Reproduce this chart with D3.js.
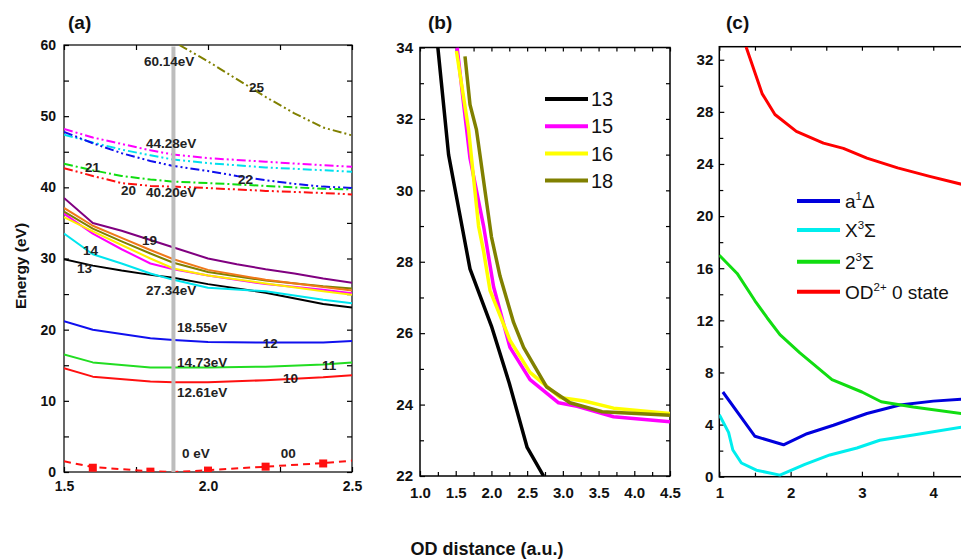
<!DOCTYPE html>
<html>
<head>
<meta charset="utf-8">
<script src="https://cdn.jsdelivr.net/npm/d3@7"></script>
<style>
body { margin: 0; background: #fff; }
svg { font-family: "Liberation Sans", Arial, sans-serif; }
.tick text { font-weight: bold; fill: #111; }
.tick line { stroke: #000; stroke-width: 1.2; }
</style>
</head>
<body>
<svg id="fig" width="961" height="560"></svg>
<script>
// ---- panel (a): energy curves vs OD distance ----
const a25 = [[1.9, 60.0], [1.97, 58.4], [2.0, 57.7], [2.1, 55.2], [2.2, 52.7], [2.3, 50.4], [2.4, 48.4], [2.5, 47.3]];
const aDashMagenta = [[1.5, 48.2], [1.6, 47.0], [1.7, 46.1], [1.8, 45.2], [1.88, 44.6], [2.0, 44.1], [2.2, 43.6], [2.4, 43.1], [2.5, 42.9]];
const aDashCyan = [[1.5, 47.4], [1.6, 46.3], [1.7, 45.3], [1.8, 44.5], [1.88, 43.9], [2.0, 43.4], [2.2, 42.8], [2.4, 42.4], [2.5, 42.2]];
const a22 = [[1.5, 47.8], [1.6, 46.2], [1.7, 44.8], [1.8, 43.7], [1.88, 43.0], [2.0, 42.3], [2.1, 41.6], [2.2, 41.0], [2.3, 40.5], [2.4, 40.1], [2.5, 39.9]];
const a21 = [[1.5, 43.3], [1.6, 42.4], [1.7, 41.6], [1.8, 41.1], [1.88, 40.8], [2.0, 40.6], [2.2, 40.2], [2.4, 39.8], [2.5, 39.7]];
const a20 = [[1.5, 42.7], [1.6, 41.6], [1.7, 40.6], [1.8, 40.2], [1.88, 40.1], [2.0, 39.9], [2.2, 39.5], [2.4, 39.2], [2.5, 39.0]];
const a19 = [[1.5, 38.5], [1.6, 35.0], [1.7, 33.9], [1.8, 32.6], [1.9, 31.3], [2.0, 30.0], [2.1, 29.2], [2.2, 28.5], [2.3, 27.9], [2.4, 27.2], [2.5, 26.6]];
const aOrange = [[1.5, 37.1], [1.6, 34.6], [1.7, 32.9], [1.8, 31.2], [1.88, 29.9], [2.0, 28.4], [2.2, 27.0], [2.4, 26.0], [2.5, 25.5]];
const a18 = [[1.5, 36.6], [1.6, 34.2], [1.7, 32.4], [1.8, 30.7], [1.88, 29.4], [2.0, 28.1], [2.2, 26.9], [2.4, 26.1], [2.5, 25.8]];
const a16 = [[1.5, 35.8], [1.6, 33.8], [1.7, 31.9], [1.8, 30.0], [1.88, 28.6], [2.0, 27.6], [2.2, 26.5], [2.4, 25.4], [2.5, 24.9]];
const a15 = [[1.5, 36.3], [1.6, 33.5], [1.7, 31.3], [1.8, 29.3], [1.88, 28.5], [2.0, 27.6], [2.2, 26.4], [2.4, 25.6], [2.5, 25.1]];
const a14 = [[1.5, 33.5], [1.6, 30.6], [1.7, 29.3], [1.8, 27.9], [1.88, 27.0], [2.0, 25.9], [2.2, 25.4], [2.4, 24.2], [2.5, 23.7]];
const a13 = [[1.5, 29.9], [1.6, 29.0], [1.7, 28.3], [1.8, 27.7], [1.88, 27.3], [2.0, 26.4], [2.2, 25.2], [2.4, 23.6], [2.5, 23.1]];
const a12 = [[1.5, 21.2], [1.6, 20.0], [1.8, 18.8], [1.88, 18.55], [2.0, 18.25], [2.2, 18.2], [2.4, 18.2], [2.5, 18.4]];
const a11 = [[1.5, 16.5], [1.6, 15.4], [1.8, 14.7], [1.88, 14.7], [2.0, 14.7], [2.2, 14.8], [2.4, 15.1], [2.5, 15.4]];
const a10 = [[1.5, 14.6], [1.6, 13.4], [1.8, 12.7], [1.88, 12.6], [2.0, 12.6], [2.2, 12.9], [2.4, 13.3], [2.5, 13.6]];
const a00 = [[1.5, 1.5], [1.6, 0.7], [1.8, 0.1], [1.88, 0.0], [2.0, 0.25], [2.2, 0.75], [2.4, 1.25], [2.5, 1.6]];
const a00marks = [[1.6, 0.6], [1.8, 0.05], [2.0, 0.2], [2.2, 0.75], [2.4, 1.2]];
const aCut = 1.88;
const aLabels = [
    [1.778, 57.05, "60.14eV"], [2.142, 53.4, "25"], [1.785, 45.5, "44.28eV"],
    [1.573, 42.2, "21"], [2.104, 40.5, "22"], [1.698, 38.9, "20"], [1.785, 38.6, "40.20eV"],
    [1.771, 31.9, "19"], [1.566, 30.5, "14"], [1.545, 28.0, "13"], [1.785, 24.9, "27.34eV"],
    [1.892, 19.7, "18.55eV"], [2.19, 17.4, "12"], [1.892, 14.75, "14.73eV"],
    [2.396, 14.3, "11"], [2.26, 12.5, "10"], [1.892, 10.5, "12.61eV"],
    [1.91, 1.97, "0 eV"], [2.253, 1.97, "00"]
];

// ---- panel (b): zoom on states 13-18 ----
const b13 = [[1.25, 34.0], [1.30, 33.0], [1.40, 31.0], [1.55, 29.4], [1.70, 27.8], [2.0, 26.2], [2.25, 24.6], [2.5, 22.8], [2.73, 22.0]];
const b15 = [[1.52, 34.0], [1.6, 32.6], [1.7, 30.9], [1.89, 29.0], [2.03, 27.3], [2.26, 25.6], [2.54, 24.7], [2.94, 24.05], [3.2, 23.95], [3.71, 23.66], [4.5, 23.52]];
const b16 = [[1.51, 33.9], [1.68, 31.7], [1.82, 29.0], [1.89, 28.3], [1.98, 27.2], [2.26, 25.8], [2.54, 24.9], [2.96, 24.2], [3.3, 24.1], [3.71, 23.9], [4.5, 23.75]];
const b18 = [[1.63, 33.75], [1.70, 32.4], [1.79, 31.7], [2.0, 28.7], [2.12, 27.6], [2.31, 26.3], [2.45, 25.6], [2.77, 24.5], [3.1, 24.05], [3.55, 23.8], [4.5, 23.7]];
const bNames = ["13", "15", "16", "18"];

// ---- panel (c): OD states ----
const cA1D = [[1.05, 6.5], [1.5, 3.1], [1.9, 2.45], [2.23, 3.3], [2.6, 3.95], [3.07, 4.85], [3.53, 5.5], [4.0, 5.8], [4.4, 5.95]];
const cX3S = [[1.0, 4.75], [1.13, 3.4], [1.19, 2.05], [1.31, 1.05], [1.52, 0.5], [1.85, 0.12], [2.2, 0.95], [2.55, 1.67], [2.93, 2.2], [3.25, 2.8], [3.72, 3.2], [4.4, 3.8]];
const c23S = [[1.0, 17.0], [1.25, 15.6], [1.5, 13.5], [1.67, 12.2], [1.85, 10.9], [2.13, 9.5], [2.58, 7.45], [3.0, 6.5], [3.27, 5.75], [3.72, 5.35], [4.4, 4.85]];
const cOD2 = [[1.375, 33.0], [1.6, 29.4], [1.78, 27.8], [2.08, 26.5], [2.46, 25.6], [2.74, 25.2], [3.07, 24.45], [3.5, 23.7], [3.95, 23.05], [4.5, 22.3]];

(function () {
    let W = 961, H = 560;
    let svg = d3.select("#fig");
    let defs = svg.append("defs");

    function range(a, b, s) {
        return d3.range(a, b + s / 2, s).map(v => +v.toFixed(3));
    }

    function panel(o) {
        let x = d3.scaleLinear().domain(o.xd).range(o.xr);
        let y = d3.scaleLinear().domain(o.yd).range(o.yr);
        let g = svg.append("g");
        let cw = Math.min(o.xr[1], W) - o.xr[0];
        defs.append("clipPath").attr("id", o.id)
            .append("rect").attr("x", o.xr[0]).attr("y", o.yr[1])
            .attr("width", cw).attr("height", o.yr[0] - o.yr[1]);

        let axes = [
            [d3.axisBottom(x).tickValues(o.xt).tickFormat(d3.format(o.xf)).tickSize(-o.tk).tickPadding(o.xpad), 0, o.yr[0]],
            [d3.axisBottom(x).tickValues(o.xm).tickFormat("").tickSize(-o.tm), 0, o.yr[0]],
            [d3.axisTop(x).tickValues(o.xm.concat(o.xt)).tickFormat("").tickSize(-o.tm), 0, o.yr[1]],
            [d3.axisLeft(y).tickValues(o.yt).tickFormat(d3.format("d")).tickSize(-o.tk).tickPadding(o.ypad), o.xr[0], 0],
            [d3.axisLeft(y).tickValues(o.ym).tickFormat("").tickSize(-o.tm), o.xr[0], 0],
            [d3.axisRight(y).tickValues(o.ym.concat(o.yt)).tickFormat("").tickSize(-o.tm), o.xr[1], 0]
        ];
        axes.forEach(function (a) {
            let ag = g.append("g").attr("transform", `translate(${a[1]},${a[2]})`).call(a[0]);
            ag.select(".domain").remove();
            ag.selectAll("text").attr("font-size", o.fs).attr("font-family", "Liberation Sans, Arial, sans-serif");
        });
        g.append("rect").attr("x", o.xr[0]).attr("y", o.yr[1])
            .attr("width", o.xr[1] - o.xr[0]).attr("height", o.yr[0] - o.yr[1])
            .attr("fill", "none").attr("stroke", "#000").attr("stroke-width", o.bw);

        let plot = g.append("g").attr("clip-path", `url(#${o.id})`);
        let line = d3.line().x(d => x(d[0])).y(d => y(d[1]));
        return {x: x, y: y, g: g, plot: plot, line: line};
    }

    function draw(p, data, color, width, dash) {
        p.plot.append("path").datum(data).attr("d", p.line)
            .attr("fill", "none").attr("stroke", color).attr("stroke-width", width)
            .attr("stroke-linejoin", "round")
            .attr("stroke-dasharray", dash || null);
    }

    // ---------- (a) ----------
    let pa = panel({
        id: "clipA", xd: [1.5, 2.5], xr: [64, 352], yd: [0, 60], yr: [472, 45],
        xt: [1.5, 2.0, 2.5], xm: [1.75, 2.25], xf: ".1f",
        yt: range(0, 60, 10), ym: range(5, 55, 10),
        tk: 5, tm: 5, xpad: 9, ypad: 8, fs: 14, bw: 1.2
    });
    let dd = "9,3,2,3,2,3", d1 = "9,3,2,3";
    let aLines = [
        [a25, "#808000", dd], [aDashMagenta, "#ff00ff", dd], [aDashCyan, "#00e0ee", dd],
        [a22, "#1010ee", dd], [a21, "#10dd10", d1], [a20, "#ff1010", dd],
        [a13, "#000000"], [a14, "#00e5ee"], [a15, "#ff00ff"], [a16, "#ffee00"],
        [a18, "#808000"], [aOrange, "#f07818"], [a19, "#800080"],
        [a12, "#1010ee"], [a11, "#22dd22"], [a10, "#ff1010"],
        [a00, "#ff1010", "7,5"]
    ];
    aLines.forEach(l => draw(pa, l[0], l[1], 2, l[2]));
    pa.plot.selectAll("rect.mk").data(a00marks).enter().append("rect")
        .attr("x", d => pa.x(d[0]) - 4).attr("y", d => pa.y(d[1]) - 4)
        .attr("width", 8).attr("height", 8).attr("fill", "#ff1010");
    pa.g.append("line")
        .attr("x1", pa.x(aCut)).attr("x2", pa.x(aCut))
        .attr("y1", pa.y(59.8)).attr("y2", pa.y(0))
        .attr("stroke", "#bdbdbd").attr("stroke-width", 4);
    pa.g.append("g").selectAll("text").data(aLabels).enter().append("text")
        .attr("x", d => pa.x(d[0])).attr("y", d => pa.y(d[1]))
        .attr("font-size", 13.5).attr("font-weight", "bold").attr("fill", "#222")
        .text(d => d[2]);

    // ---------- (b) ----------
    let pb = panel({
        id: "clipB", xd: [1, 4.5], xr: [420, 670], yd: [22, 34], yr: [476, 47.5],
        xt: range(1, 4.5, 0.5), xm: range(1.25, 4.25, 0.5), xf: ".1f",
        yt: range(22, 34, 2), ym: range(23, 33, 2),
        tk: 5, tm: 4, xpad: 11, ypad: 7, fs: 15, bw: 1.5
    });
    let bColors = ["#000000", "#ff00ff", "#ffff00", "#808000"];
    [b13, b15, b16, b18].forEach((s, i) => draw(pb, s, bColors[i], 3.5));
    let bl = pb.g.append("g").selectAll("g").data(bNames).enter().append("g")
        .attr("transform", (d, i) => `translate(545,${99 + i * 27.2})`);
    bl.append("line").attr("x1", 0).attr("x2", 43)
        .attr("stroke", (d, i) => bColors[i]).attr("stroke-width", 4);
    bl.append("text").attr("x", 46).attr("dy", "0.36em")
        .attr("font-size", 20).attr("fill", "#111").text(d => d);

    // ---------- (c) ----------
    let pc = panel({
        id: "clipC", xd: [1, 4.5], xr: [719.3, 968.9], yd: [0, 33], yr: [476.7, 46.7],
        xt: [1, 2, 3, 4], xm: [1.5, 2.5, 3.5], xf: "d",
        yt: range(0, 32, 4), ym: range(2, 30, 4),
        tk: 5, tm: 4, xpad: 11, ypad: 6, fs: 15, bw: 1.5
    });
    let cColors = ["#0000dd", "#00eeee", "#11dd11", "#ff0000"];
    [cA1D, cX3S, c23S, cOD2].forEach((s, i) => draw(pc, s, cColors[i], 3));
    let cNames = [["a", "1", "\u0394", ""], ["X", "3", "\u03a3", ""], ["2", "3", "\u03a3", ""], ["OD", "2+", " 0 state", ""]];
    let cl = pc.g.append("g").selectAll("g").data(cNames).enter().append("g")
        .attr("transform", (d, i) => `translate(797,${[201, 230, 261.7, 291.7][i]})`);
    cl.append("line").attr("x1", 0).attr("x2", 43)
        .attr("stroke", (d, i) => cColors[i]).attr("stroke-width", 4);
    let ct = cl.append("text").attr("x", 48).attr("y", 7)
        .attr("font-size", 19).attr("fill", "#111");
    ct.append("tspan").text(d => d[0]);
    ct.append("tspan").attr("font-size", 11.5).attr("dy", -8).text(d => d[1]);
    ct.append("tspan").attr("dy", 8).text(d => d[2]);

    // ---------- titles ----------
    let titles = [
        {x: 68, y: 29, text: "(a)"},
        {x: 428, y: 29, text: "(b)"},
        {x: 726, y: 29, text: "(c)"}
    ];
    svg.append("g").selectAll("text").data(titles).enter().append("text")
        .attr("x", d => d.x).attr("y", d => d.y)
        .attr("font-size", 19).attr("font-weight", "bold").attr("fill", "#111")
        .text(d => d.text);

    svg.append("text").attr("transform", "translate(26,266) rotate(-90)")
        .attr("text-anchor", "middle").attr("font-size", 15.5).attr("font-weight", "bold")
        .attr("fill", "#111").text("Energy (eV)");
    svg.append("text").attr("x", 487).attr("y", 555)
        .attr("text-anchor", "middle").attr("font-size", 18).attr("font-weight", "bold")
        .attr("fill", "#111").text("OD distance (a.u.)");
})();
</script>
</body>
</html>
